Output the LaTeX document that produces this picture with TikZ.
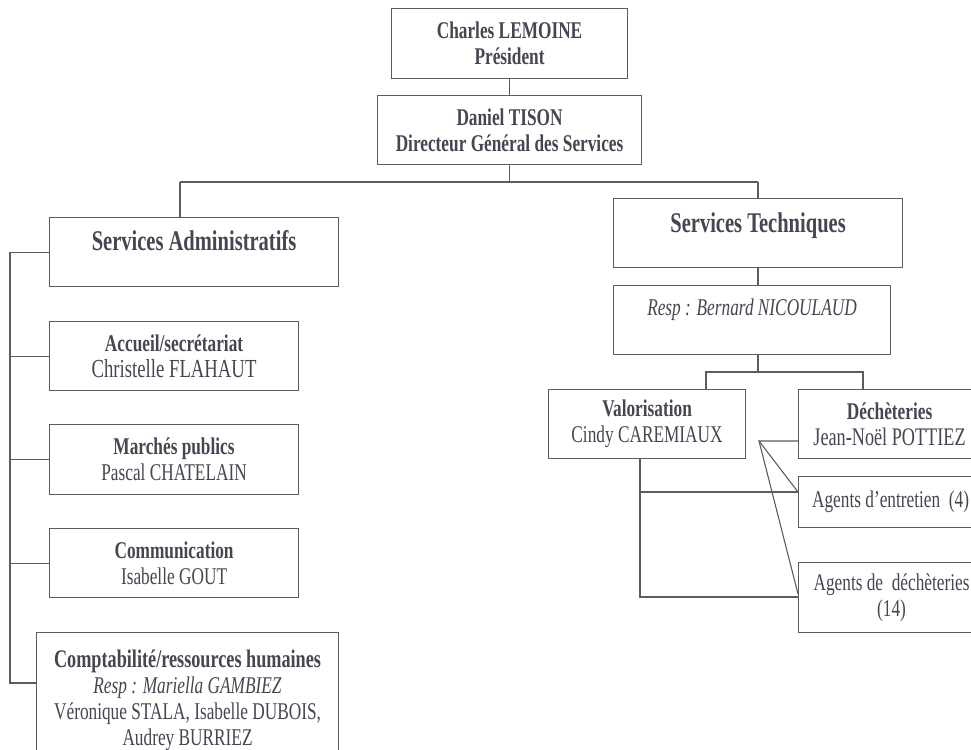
\documentclass[tikz,border=0pt]{standalone}
\usepackage{fontspec}
\setmainfont[FakeStretch=0.72]{Liberation Serif}
\newcommand\fsnorm{\fontsize{24}{26}\selectfont}
\newcommand\fstitle{\fontsize{28.5}{30}\selectfont}
\newcommand\fsbig{\fontsize{26}{26}\selectfont}
\newcommand\fsmid{\fontsize{25.3}{26}\selectfont}
\definecolor{textc}{HTML}{464652}
\definecolor{linec}{HTML}{5C5C5C}
\begin{document}
\begin{tikzpicture}[x=1pt,y=-1pt,
  box/.style={draw=linec, line width=1.1pt, inner sep=0pt, anchor=north west,
    align=center, text=textc, font=\fsnorm},
  titlebox/.style={box, font=\fstitle\bfseries},
  conn/.style={draw=linec, line width=1.1pt}]
\useasboundingbox (0,0) rectangle (971,749);
\fill[white] (0,0) rectangle (971,749);

% top
\node[box, minimum width=236, minimum height=70] (pres) at (391,8)
  {\textbf{Charles LEMOINE}\\\textbf{Président}};
\node[box, minimum width=264, minimum height=69] (dg) at (377,95)
  {\textbf{Daniel TISON}\\\textbf{Directeur Général des Services}};

% departments
\node[titlebox, minimum width=289, text height=33, text depth=36] (sa) at (49,217)
  {Services Administratifs};
\node[titlebox, minimum width=289, text height=34, text depth=35] (st) at (613,198)
  {Services Techniques};
\node[box, minimum width=277, text height=30, text depth=39] (resp) at (613,285)
  {\textit{Resp : Bernard NICOULAUD}};

% administrative
\node[box, minimum width=249, minimum height=69] (acc) at (49,321)
  {\textbf{Accueil/secrétariat}\\{\fsbig Christelle FLAHAUT}};
\node[box, minimum width=249, minimum height=70] (mar) at (49,424)
  {\textbf{Marchés publics}\\Pascal CHATELAIN};
\node[box, minimum width=249, minimum height=69] (com) at (49,528)
  {\textbf{Communication}\\Isabelle GOUT};
\node[box, minimum width=302, minimum height=136] (cpt) at (36,632)
  {{\fsmid\bfseries Comptabilité/ressources humaines}\\\textit{Resp : Mariella GAMBIEZ}\\
   Véronique STALA, Isabelle DUBOIS,\\Audrey BURRIEZ};

% technical
\node[box, minimum width=197, minimum height=69] (val) at (548,389)
  {\textbf{Valorisation}\\Cindy CAREMIAUX};
\node[box, minimum width=182, minimum height=69] (dech) at (798,389)
  {\textbf{Déchèteries}\\{\fsmid Jean-Noël POTTIEZ}};
\node[box, minimum width=184, minimum height=51] (aent) at (798,476)
  {Agents d’entretien\ \ (4)};
\node[box, minimum width=186, minimum height=70] (adech) at (798,562)
  {Agents de\ \ déchèteries\\(14)};

% coordinates
\coordinate (busL) at (180,182);
\coordinate (busR) at (758,182);
\coordinate (lbEnd) at (10,683);
\coordinate (t0) at (758,372);
\coordinate (t1) at (706,372);
\coordinate (t2) at (863,372);
\coordinate (vb) at (640,597);
\coordinate (ae) at (798,492);
\coordinate (ad) at (798,594);
\coordinate (fan) at (759,441);

% connectors
\draw[conn] (pres.south) -- (dg.north);
\draw[conn] (dg.south) -- (dg.south |- busL);
\draw[conn] (busL) -- (busR);
\draw[conn] (busL) -- (busL |- sa.north);
\draw[conn] (busR) -- (busR |- st.north);
\draw[conn] (busR |- st.south) -- (busR |- resp.north);
\draw[conn] (t0 |- resp.south) -- (t0);
\draw[conn] (t1 |- val.north) -- (t1) -- (t2) -- (t2 |- dech.north);

\draw[conn] (sa.west) -- (sa.west -| lbEnd) -- (lbEnd) -- (lbEnd -| cpt.west);
\draw[conn] (acc.west) -- (acc.west -| lbEnd);
\draw[conn] (mar.west) -- (mar.west -| lbEnd);
\draw[conn] (com.west) -- (com.west -| lbEnd);

\draw[conn] (vb |- val.south) -- (vb) -- (vb -| adech.west);
\draw[conn] (vb |- ae) -- (ae);
\draw[conn] (fan -| dech.west) -- (fan) -- (ae);
\draw[conn] (fan) -- (ad);
\end{tikzpicture}
\end{document}
